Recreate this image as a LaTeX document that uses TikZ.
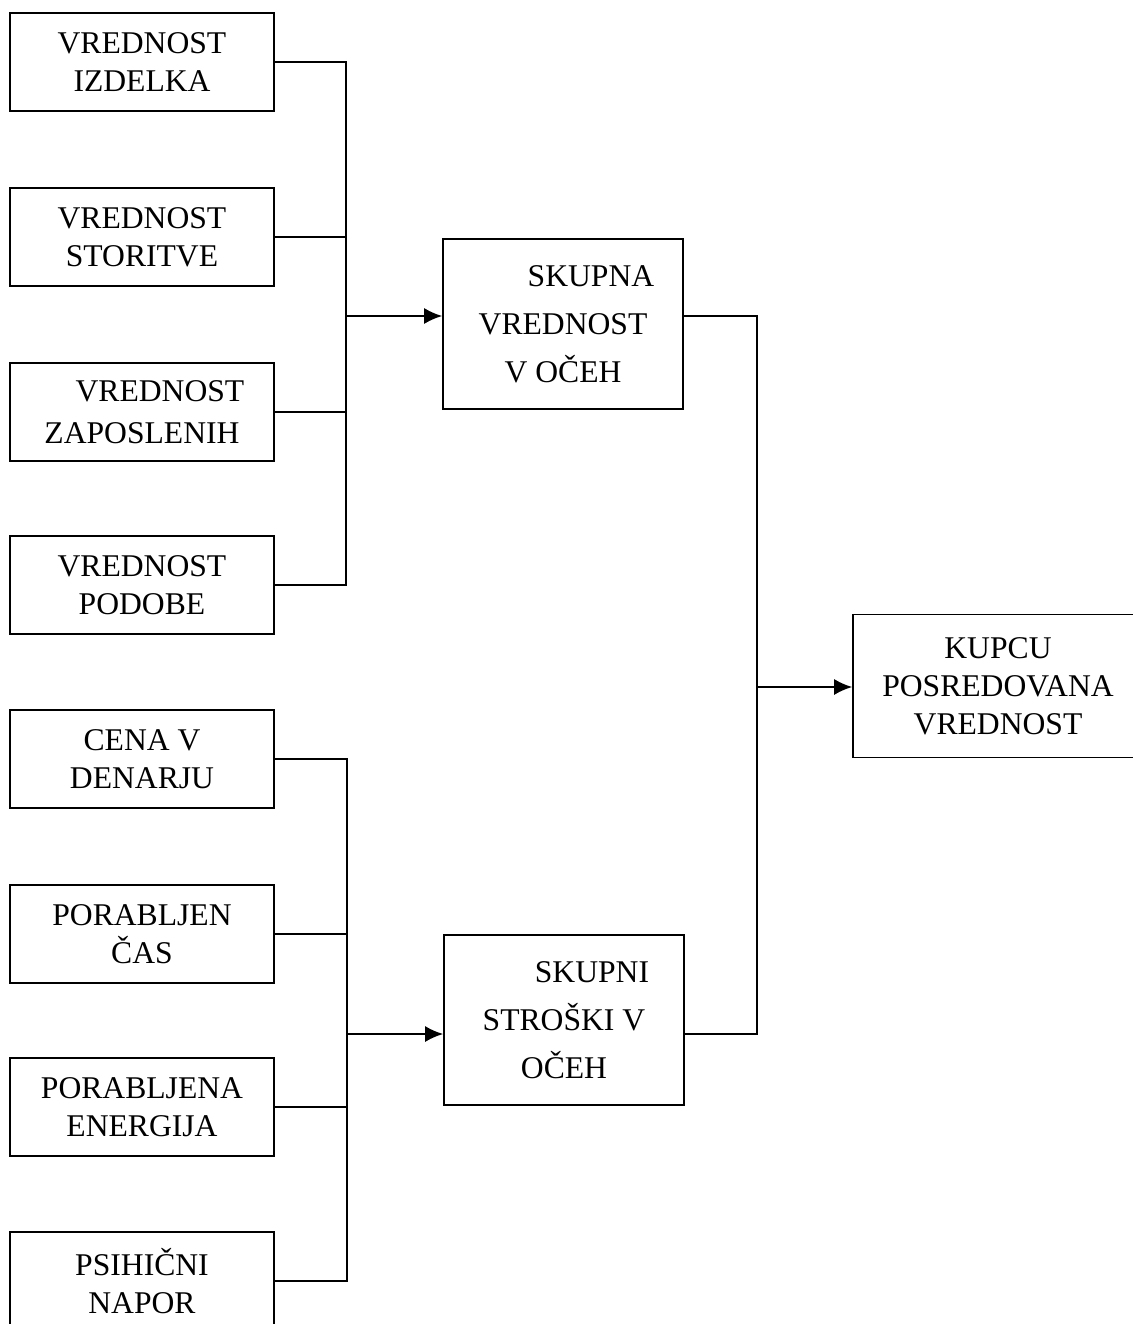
\documentclass[tikz,border=0pt]{standalone}
\usepackage{fontspec}
\setmainfont{Liberation Serif}
\usetikzlibrary{arrows.meta,positioning}

\begin{document}
\begin{tikzpicture}[x=0.02cm,y=-0.02cm,>={Latex[length=0.36cm,width=0.32cm]},
box/.style={draw,line width=1pt,align=center,inner sep=0pt,minimum width=5.28cm,minimum height=1.96cm,font=\fontsize{18}{21.6}\selectfont},
sum/.style={box,minimum width=4.8cm,minimum height=3.4cm,font=\fontsize{18}{27.3}\selectfont},
link/.style={line width=1pt},
flow/.style={->,line width=1pt}]
\useasboundingbox (0,0) rectangle (1132,1324);
\node[box] (izdelka) at (142,62) {VREDNOST\\IZDELKA};
\node[box] (storitve) at (142,237) {VREDNOST\\STORITVE};
\node[box] (zaposleni) at (142,412) {\hspace*{0.72cm}VREDNOST\\[2pt]ZAPOSLENIH};
\node[box] (podoba) at (142,585) {VREDNOST\\PODOBE};
\node[box] (cena) at (142,759) {CENA V\\DENARJU};
\node[box] (cas) at (142,934) {PORABLJEN\\ČAS};
\node[box] (energija) at (142,1107) {PORABLJENA\\ENERGIJA};
\node[box] (napor) at (142,1281) {PSIHIČNI\\NAPOR};
\node[sum] (vrednost) at (563,324) {\hspace*{1.12cm}SKUPNA\\VREDNOST\\V OČEH};
\node[sum] (stroski) at (564,1020) {\hspace*{1.12cm}SKUPNI\\STROŠKI V\\OČEH};
\node[box,minimum width=5.8cm,minimum height=2.86cm] (kupec) at (998,686) {KUPCU\\POSREDOVANA\\VREDNOST};
\coordinate (t) at (346,316);
\coordinate (b) at (347,1034);
\coordinate (r) at (757,687);
\draw[link] (izdelka.east) -| (t);\draw[link] (storitve.east) -| (t);
\draw[link] (zaposleni.east) -| (t);\draw[link] (podoba.east) -| (t);
\draw[link] (cena.east) -| (b);\draw[link] (cas.east) -| (b);
\draw[link] (energija.east) -| (b);\draw[link] (napor.east) -| (b);
\draw[flow] (t)--(t -| vrednost.west);
\draw[flow] (b)--(b -| stroski.west);
\draw[link] (t -| vrednost.east) -| (r);
\draw[link] (b -| stroski.east) -| (r);
\draw[flow] (r)--(r -| kupec.west);
\end{tikzpicture}
\end{document}
